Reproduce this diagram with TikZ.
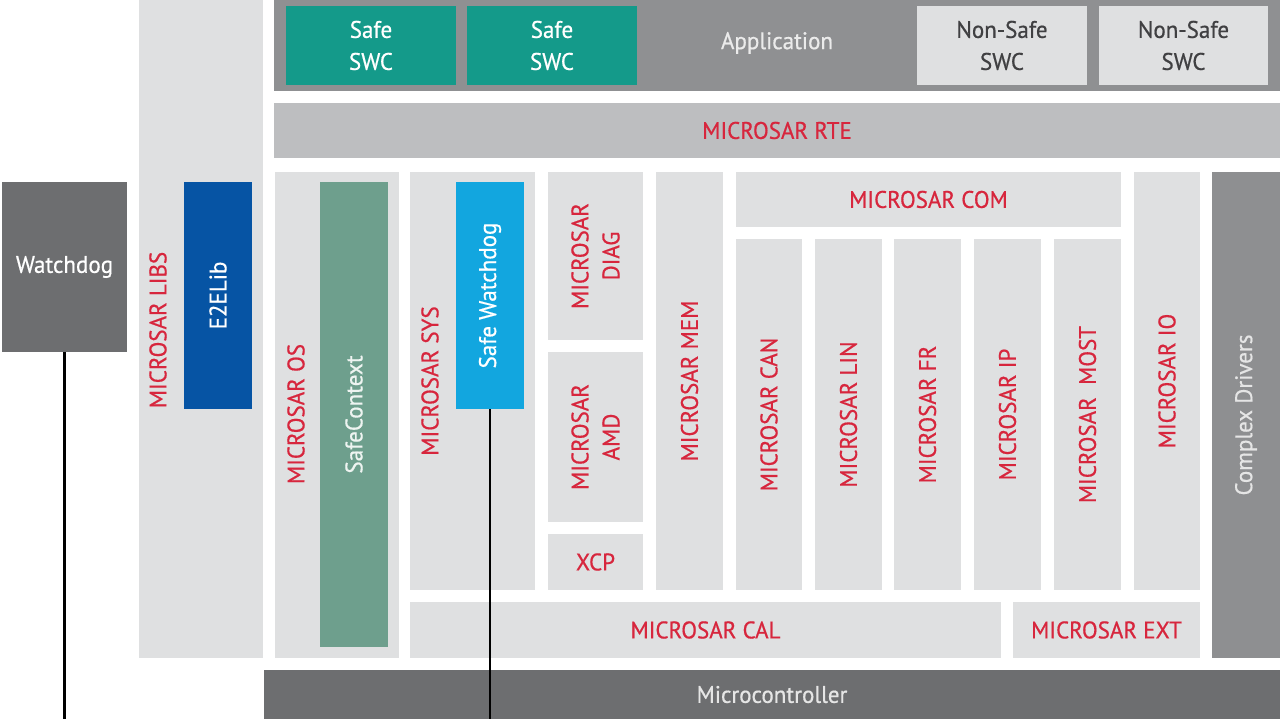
\documentclass[tikz,border=0pt]{standalone}
\usepackage{fontspec}
\setmainfont{PT Sans}[FakeStretch=0.96,FakeBold=0.6]
\definecolor{lgrey}{HTML}{DFE0E1}
\definecolor{appgrey}{HTML}{8F9092}
\definecolor{rtegrey}{HTML}{BDBEC0}
\definecolor{dgrey}{HTML}{6D6E70}
\definecolor{cdgrey}{HTML}{8E8F91}
\definecolor{teal}{HTML}{149A8A}
\definecolor{sctx}{HTML}{6E9F8D}
\definecolor{e2e}{HTML}{0654A4}
\definecolor{swd}{HTML}{12A6DF}
\definecolor{msred}{HTML}{D7263D}
\definecolor{nstext}{HTML}{404042}
\begin{document}
\begin{tikzpicture}[x=1pt,y=-1pt,
  blk/.style={inner sep=0pt,outer sep=0pt,draw=none,align=center,
    font=\fontsize{24}{32}\selectfont},
  lg/.style={blk,fill=lgrey,text=msred},
  lbl/.style={inner sep=0pt,align=center,font=\fontsize{24}{31}\selectfont,text=msred},
  wlbl/.style={lbl,text=white},
  wire/.style={draw=black,line width=2.4pt}]
\useasboundingbox (0,0) rectangle (1280,719);
\fill[white] (0,0) rectangle (1280,719);
% application layer
\node[blk,fill=appgrey,minimum width=1006pt,minimum height=91pt] (app) at (777,45.5) {};
\node[wlbl,text=white!92!black] (appl) at (777,43) {Application};
\node[blk,fill=teal,text=white,minimum width=170pt,minimum height=79pt] (safe1) at (371,45.5) {Safe\\SWC};
\node[blk,fill=teal,text=white,minimum width=170pt,minimum height=79pt] (safe2) at (552,45.5) {Safe\\SWC};
\node[blk,fill=lgrey,text=nstext,minimum width=170pt,minimum height=79pt] (ns1) at (1002,45.5) {Non-Safe\\SWC};
\node[blk,fill=lgrey,text=nstext,minimum width=169pt,minimum height=79pt] (ns2) at (1183.5,45.5) {Non-Safe\\SWC};
% RTE
\node[blk,fill=rtegrey,text=msred,minimum width=1006pt,minimum height=55pt] (rte) at (777,130.5) {MICROSAR RTE};
% libs
\node[blk,fill=lgrey,minimum width=124pt,minimum height=658pt] (libs) at (201,329) {};
\node[lbl,rotate=90] (libsl) at (158,330) {MICROSAR LIBS};
\node[blk,fill=e2e,minimum width=68pt,minimum height=227pt] (e2e) at (218,295.5) {};
\node[wlbl,rotate=90] (e2el) at (e2e) {E2ELib};
% watchdog
\node[blk,fill=dgrey,text=white,minimum width=125pt,minimum height=170pt] (wd) at (64.5,267) {Watchdog};
% OS
\node[blk,fill=lgrey,minimum width=124pt,minimum height=486pt] (os) at (337,415) {};
\node[lbl,rotate=90] (osl) at (296,414) {MICROSAR OS};
\node[blk,fill=sctx,minimum width=68pt,minimum height=465pt] (sc) at (354,414.5) {};
\node[wlbl,rotate=90,text=white!88!sctx] (scl) at (sc) {SafeContext};
% SYS
\node[blk,fill=lgrey,minimum width=125pt,minimum height=418pt] (sys) at (472.5,381) {};
\node[lbl,rotate=90] (sysl) at (430,381) {MICROSAR SYS};
\node[blk,fill=swd,minimum width=68pt,minimum height=227pt] (swd) at (490,295.5) {};
\node[wlbl,rotate=90] (swdl) at (swd) {Safe Watchdog};
% DIAG AMD XCP
\node[lg,minimum width=95pt,minimum height=168pt] (diag) at (595.5,256) {};
\node[lbl,rotate=90] (diagl) at (diag) {MICROSAR\\DIAG};
\node[lg,minimum width=95pt,minimum height=170pt] (amd) at (595.5,437) {};
\node[lbl,rotate=90] (amdl) at (amd) {MICROSAR\\AMD};
\node[lg,minimum width=95pt,minimum height=56pt] (xcp) at (595.5,562) {XCP};
% MEM
\node[lg,minimum width=67pt,minimum height=418pt] (mem) at (689.5,381) {};
\node[lbl,rotate=90] (meml) at (mem) {MICROSAR MEM};
% COM
\node[lg,minimum width=385pt,minimum height=55pt] (com) at (928.5,199.5) {MICROSAR COM};
\node[lg,minimum width=66pt,minimum height=351pt] (can) at (769,414.5) {};
\node[lbl,rotate=90] (canl) at (can) {MICROSAR CAN};
\node[lg,minimum width=67pt,minimum height=351pt] (lin) at (848.5,414.5) {};
\node[lbl,rotate=90] (linl) at (lin) {MICROSAR LIN};
\node[lg,minimum width=67pt,minimum height=351pt] (fr) at (927.5,414.5) {};
\node[lbl,rotate=90] (frl) at (fr) {MICROSAR FR};
\node[lg,minimum width=67pt,minimum height=351pt] (ip) at (1007.5,414.5) {};
\node[lbl,rotate=90] (ipl) at (ip) {MICROSAR IP};
\node[lg,minimum width=67pt,minimum height=351pt] (most) at (1087.5,414.5) {};
\node[lbl,rotate=90] (mostl) at (most) {MICROSAR\ \ MOST};
% IO
\node[lg,minimum width=66pt,minimum height=418pt] (io) at (1167,381) {};
\node[lbl,rotate=90] (iol) at (io) {MICROSAR IO};
% Complex drivers
\node[blk,fill=cdgrey,minimum width=68pt,minimum height=486pt] (cd) at (1246,415) {};
\node[wlbl,rotate=90,text=white!90!black] (cdl) at (cd) {Complex Drivers};
% CAL EXT
\node[lg,minimum width=591pt,minimum height=56pt] (cal) at (705.5,630) {MICROSAR CAL};
\node[lg,minimum width=187pt,minimum height=56pt] (ext) at (1106.5,630) {MICROSAR EXT};
% Microcontroller
\node[blk,fill=dgrey,text=white!90!black,minimum width=1016pt,minimum height=49pt] (mc) at (772,694.5) {Microcontroller};
% connectors
\coordinate (wdend) at (64.5,719);
\coordinate (swdend) at (490,719);
\draw[wire] (wd.south) -- (wdend);
\draw[wire] (swd.south) -- (swdend);
\end{tikzpicture}
\end{document}
